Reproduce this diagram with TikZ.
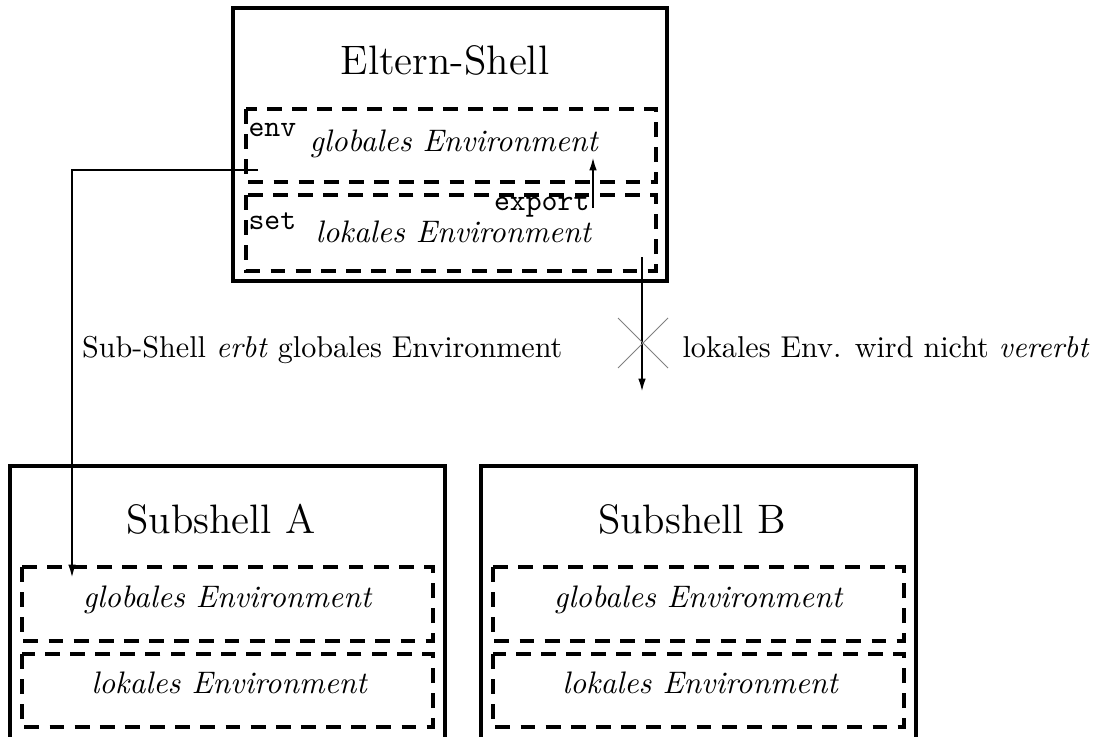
\documentclass[tikz,border=0pt]{standalone}
\usepackage{tikz}
\usetikzlibrary{arrows.meta}

\begin{document}
\begin{tikzpicture}[x=0.35pt,y=-0.35pt,
  shell/.style={line width=1.1pt},
  envbox/.style={line width=1.1pt,dash pattern=on 5.2pt off 3.6pt},
  pfeil/.style={line width=0.9pt,-{Latex[length=5pt,width=2.6pt]}},
  titel/.style={font=\Large,anchor=base},
  envtext/.style={font=\fontsize{10.9}{13}\selectfont\itshape,anchor=base},
  kmd/.style={font=\fontsize{10.6}{13}\selectfont\ttfamily,anchor=base west,inner sep=0pt},
  label/.style={font=\fontsize{10.55}{13}\selectfont,inner sep=0pt}]
  \clip (0,0) rectangle (1106,737);
  % Eltern-Shell oben
  \draw[shell] (233,8) rectangle (667,281);
  \node[titel] (eltern) at (445,75) {Eltern-Shell};
  \draw[envbox] (246,109) rectangle (656,182);
  \draw[envbox] (246,195) rectangle (656,271);
  \node[kmd] (env) at (248,137) {env};
  \node[envtext,anchor=base west,inner sep=0pt] (eglob) at (309,152) {globales Environment};
  \node[kmd] (set) at (248,229) {set};
  \node[envtext,anchor=base west,inner sep=0pt] (elok) at (315,242) {lokales Environment};
  \node[kmd,anchor=base east] (export) at (590,210) {export};
  \coordinate (exfuss) at (593,208);
  \coordinate (exspitze) at (593,156);
  \draw[pfeil] (exfuss) -- (exspitze);
  % Subshells unten
  \foreach \name/\x in {A/10,B/481} {
    \draw[shell] (\x,750) |- (\x+435,466) -- (\x+435,750);
    \node[titel] (sub\name) at (\x+211,533) {Subshell \name};
    \draw[envbox] (\x+12,567) rectangle (\x+423,641);
    \draw[envbox] (\x+12,654) rectangle (\x+423,727);
    \node[envtext] (glob\name) at (\x+217,607) {globales Environment};
    \node[envtext] (lok\name) at (\x+219,693) {lokales Environment};
  }
  % Vererbung
  \coordinate (gstart) at (258,170);
  \coordinate (gziel) at (72,579);
  \draw[pfeil] (gstart) -| (gziel);
  \coordinate (lstart) at (642,257);
  \coordinate (lziel) at (642,393);
  \draw[pfeil] (lstart) -- (lziel);
  \draw[gray,line width=0.3pt] (618,318) -- (668,368) (618,368) -- (668,318);
  \node[label,anchor=base east] (erbt) at (563,357) {Sub-Shell \emph{erbt} globales Environment};
  \node[label,anchor=base west] (nicht) at (682,357) {lokales Env. wird nicht \emph{vererbt}};
\end{tikzpicture}
\end{document}
